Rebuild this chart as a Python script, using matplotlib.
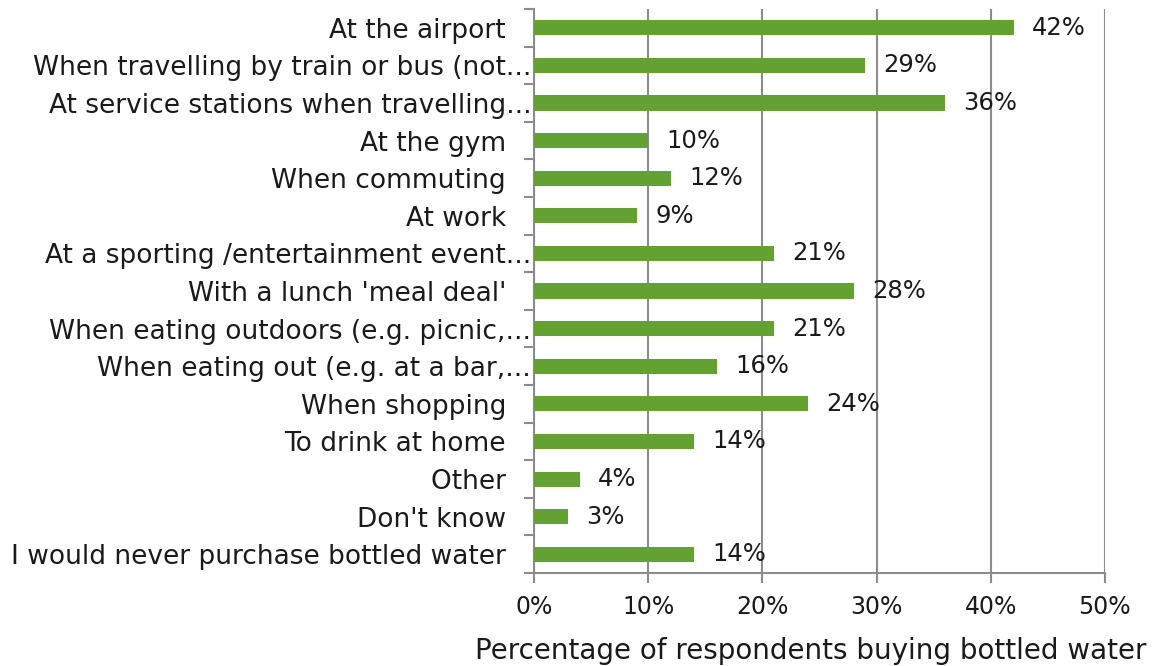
import matplotlib.pyplot as plt
import numpy as np

categories = [
    "At the airport   ",
    "When travelling by train or bus (not...",
    "At service stations when travelling...",
    "At the gym   ",
    "When commuting   ",
    "At work   ",
    "At a sporting /entertainment event...",
    "With a lunch 'meal deal'   ",
    "When eating outdoors (e.g. picnic,...",
    "When eating out (e.g. at a bar,...",
    "When shopping   ",
    "To drink at home   ",
    "Other   ",
    "Don't know   ",
    "I would never purchase bottled water   ",
]
percentages = [42, 29, 36, 10, 12, 9, 21, 28, 21, 16, 24, 14, 4, 3, 14]
x_ticks = [0, 10, 20, 30, 40, 50]

bar_color = "#63a132"
grid_color = "#8c8c8c"
text_color = "#1a1a1a"
font = "DejaVu Sans"

plt.rcParams["font.family"] = [font]

fig = plt.figure(figsize=(11.57, 6.66), dpi=100)
ax = fig.add_axes([0.4615, 0.1396, 0.4935, 0.8469])

y = np.arange(len(categories))
ax.barh(y, percentages, height=0.4, color=bar_color, zorder=3)

for yi, v in zip(y, percentages):
    ax.text(v + 1.6, yi, f"{v}%", va="center", ha="left",
            fontsize=17.5, color=text_color, zorder=4)

ax.set_xlim(0, 50)
ax.set_ylim(len(categories) - 0.5, -0.5)
ax.set_xticks(x_ticks)
ax.set_xticklabels([f"{t}%" for t in x_ticks], fontsize=17, color=text_color)
ax.set_yticks(y)
ax.set_yticklabels(categories, fontsize=19, color=text_color)
ax.set_yticks(np.arange(-0.5, len(categories)), minor=True)

ax.tick_params(axis="y", which="major", length=0, pad=2)
ax.tick_params(axis="y", which="minor", length=7, width=1.5, color=grid_color)
ax.tick_params(axis="x", which="major", length=7, width=1.5, color=grid_color, pad=9)

ax.xaxis.grid(True, color=grid_color, linewidth=1.5, zorder=0)
ax.set_axisbelow(True)
for side in ["top", "right"]:
    ax.spines[side].set_visible(False)
for side in ["left", "bottom"]:
    ax.spines[side].set_color(grid_color)
    ax.spines[side].set_linewidth(1.5)

fig.text(0.701, 0.0225, "Percentage of respondents buying bottled water",
         ha="center", va="center", fontsize=20, family=font, color=text_color)

fig.savefig("out.png", dpi=100)
